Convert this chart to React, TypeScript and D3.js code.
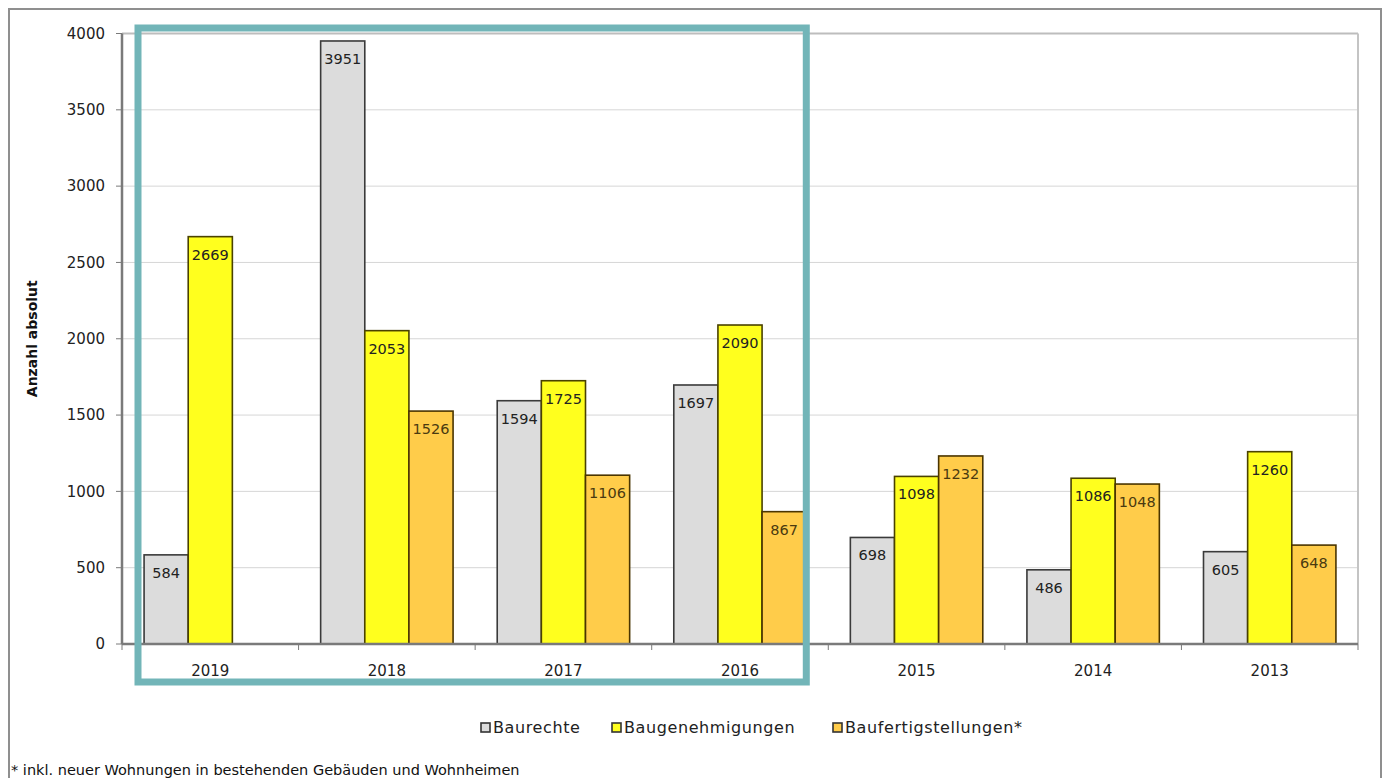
import React from 'react';
import * as d3 from 'd3';

const years = ['2019', '2018', '2017', '2016', '2015', '2014', '2013'];
const baurechte = [584, 3951, 1594, 1697, 698, 486, 605];
const baugenehmigungen = [2669, 2053, 1725, 2090, 1098, 1086, 1260];
const baufertigstellungen = [null, 1526, 1106, 867, 1232, 1048, 648];
const seriesNames = ['Baurechte', 'Baugenehmigungen', 'Baufertigstellungen*'];
const yTicks = [0, 500, 1000, 1500, 2000, 2500, 3000, 3500, 4000];
const footnote = '* inkl. neuer Wohnungen in bestehenden Gebäuden und Wohnheimen';

const fills = ['#dcdcdc', '#ffff1e', '#ffcc4a'];
const strokes = ['#3a3a3a', '#4a4200', '#4a3500'];

const W = 1386;
const H = 778;
const font = '"DejaVu Sans", Verdana, sans-serif';

export default function App() {
  const margin = { left: 122, right: 1358, top: 33.5, bottom: 644 };

  const x = d3.scaleBand<string>().domain(years).range([margin.left, margin.right]).padding(0);
  const inner = d3.scaleBand<number>()
    .domain([0, 1, 2])
    .range([0, x.bandwidth()])
    .paddingInner(0)
    .paddingOuter(0.5);
  const y = d3.scaleLinear().domain([0, 4000]).range([margin.bottom, margin.top]);

  const allSeries = [baurechte, baugenehmigungen, baufertigstellungen];

  const bars = years.flatMap((yr, i) =>
    allSeries.map((s, k) => ({ yr, k, v: s[i] })).filter(d => d.v != null)
  );

  // highlight box round 2019-2016
  const hlLeft = (x('2019') as number) + 16;
  const hlRight = (x('2016') as number) + x.bandwidth() - 22;
  const hlTop = y(4000) - 5.5;
  const hlBottom = y(0) + 38;

  const legendX = [481, 612, 833];

  return (
    <svg
      width={W}
      height={H}
      style={{ position: 'absolute', left: 0, top: 0, display: 'block', background: '#fff' }}
      fontFamily={font}
    >
      {/* outer frame */}
      <rect x={9} y={9} width={1372} height={800} fill="#fff" stroke="#8f8f8f" strokeWidth={2} />

      {/* gridlines */}
      {yTicks.filter(t => t > 0).map(t => (
        <line key={t} x1={margin.left} x2={margin.right} y1={y(t)} y2={y(t)}
          stroke={t === 4000 ? '#bdbdbd' : '#d6d6d6'} strokeWidth={t === 4000 ? 2 : 1} />
      ))}
      <line x1={margin.right} x2={margin.right} y1={y(4000)} y2={y(0)} stroke="#c4c4c4" strokeWidth={2} />

      {/* bars */}
      {bars.map(d => {
        const bx = (x(d.yr) as number) + (inner(d.k) as number);
        const by = y(d.v as number);
        return (
          <g key={d.yr + d.k}>
            <rect x={bx} y={by} width={inner.bandwidth()} height={y(0) - by}
              fill={fills[d.k]} stroke={strokes[d.k]} strokeWidth={1.6} />
            <text x={bx + inner.bandwidth() / 2} y={by + 23} textAnchor="middle"
              fontSize={14.5} fill={d.k === 2 ? '#4a3a10' : '#222'}>{d.v}</text>
          </g>
        );
      })}

      {/* axes */}
      <line x1={margin.left} x2={margin.left} y1={y(4000)} y2={y(0)} stroke="#7a7a7a" strokeWidth={2.5} />
      <line x1={margin.left} x2={margin.right} y1={y(0)} y2={y(0)} stroke="#7a7a7a" strokeWidth={2.5} />
      {yTicks.map(t => (
        <g key={t}>
          <line x1={margin.left - 6} x2={margin.left} y1={y(t)} y2={y(t)} stroke="#7a7a7a" strokeWidth={1} />
          <text x={105} y={y(t)} dy="0.35em" textAnchor="end" fontSize={15} fill="#222">{t}</text>
        </g>
      ))}
      {years.map(yr => (
        <g key={yr}>
          <line x1={x(yr) as number} x2={x(yr) as number} y1={y(0)} y2={y(0) + 6} stroke="#7a7a7a" />
          <text x={(x(yr) as number) + x.bandwidth() / 2} y={676} textAnchor="middle" fontSize={15} fill="#222">{yr}</text>
        </g>
      ))}
      <line x1={margin.right} x2={margin.right} y1={y(0)} y2={y(0) + 6} stroke="#7a7a7a" />

      <text transform={`translate(37,${(y(0) + y(4000)) / 2}) rotate(-90)`} textAnchor="middle"
        fontSize={14} fontWeight="bold" fill="#111">Anzahl absolut</text>

      {/* highlight */}
      <rect x={hlLeft} y={hlTop} width={hlRight - hlLeft} height={hlBottom - hlTop}
        fill="none" stroke="#72b5b8" strokeWidth={7} />

      {/* legend */}
      {seriesNames.map((n, k) => (
        <g key={n}>
          <rect x={legendX[k]} y={723} width={9} height={9} fill={fills[k]} stroke="#333" strokeWidth={1.6} />
          <text x={legendX[k] + 12} y={733} fontSize={16} letterSpacing={0.6} fill="#222">{n}</text>
        </g>
      ))}

      <text x={11} y={775} fontSize={14.5} fill="#111">{footnote}</text>
    </svg>
  );
}
